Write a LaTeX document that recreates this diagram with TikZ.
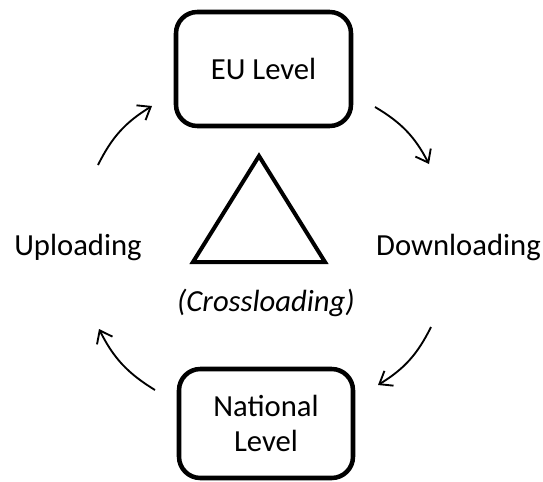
\documentclass[tikz,border=0pt]{standalone}
\usepackage{fontspec}
\setmainfont{Carlito}
\usetikzlibrary{arrows.meta}
\tikzset{
  levelbox/.style={draw, line width=3.4pt, rounded corners=16pt, align=center,
    font=\fontsize{23}{26.25}\selectfont, inner sep=0pt},
  lbl/.style={font=\fontsize{23}{26.25}\selectfont, inner sep=0pt, anchor=base},
  flow/.style={line width=1.4pt, -{Straight Barb[length=8.5pt,width=13pt,line width=1.4pt]}, bend left=16},
  tri/.style={line width=3pt, line join=miter}
}
\begin{document}
\begin{tikzpicture}[x=0.75pt,y=-0.75pt]
\useasboundingbox (0,0) rectangle (543,482);
\node[levelbox, minimum width=131.25pt, minimum height=85.5pt] (eu) at (263.5,69) {EU Level};
\node[levelbox, minimum width=130.5pt, minimum height=81.75pt] (nat) at (266,423.5) {National\\Level};
\node[lbl] (up) at (78,255) {Uploading};
\node[lbl] (down) at (458.5,255) {Downloading};
\node[lbl] (cross) at (266,311) {\itshape (Crossloading)};
\coordinate (ta) at (259,156);
\coordinate (tl) at (193,262);
\coordinate (tr) at (325,262);
\draw[tri] (ta) -- (tl) -- (tr) -- cycle;
\coordinate (a1s) at (98,165);  \coordinate (a1e) at (152,106);
\coordinate (a2s) at (375,107); \coordinate (a2e) at (429,164);
\coordinate (a3s) at (431,327); \coordinate (a3e) at (378,385);
\coordinate (a4s) at (155,390); \coordinate (a4e) at (99,329);
\draw[flow] (a1s) to (a1e);
\draw[flow] (a2s) to (a2e);
\draw[flow] (a3s) to (a3e);
\draw[flow] (a4s) to (a4e);
\end{tikzpicture}
\end{document}
